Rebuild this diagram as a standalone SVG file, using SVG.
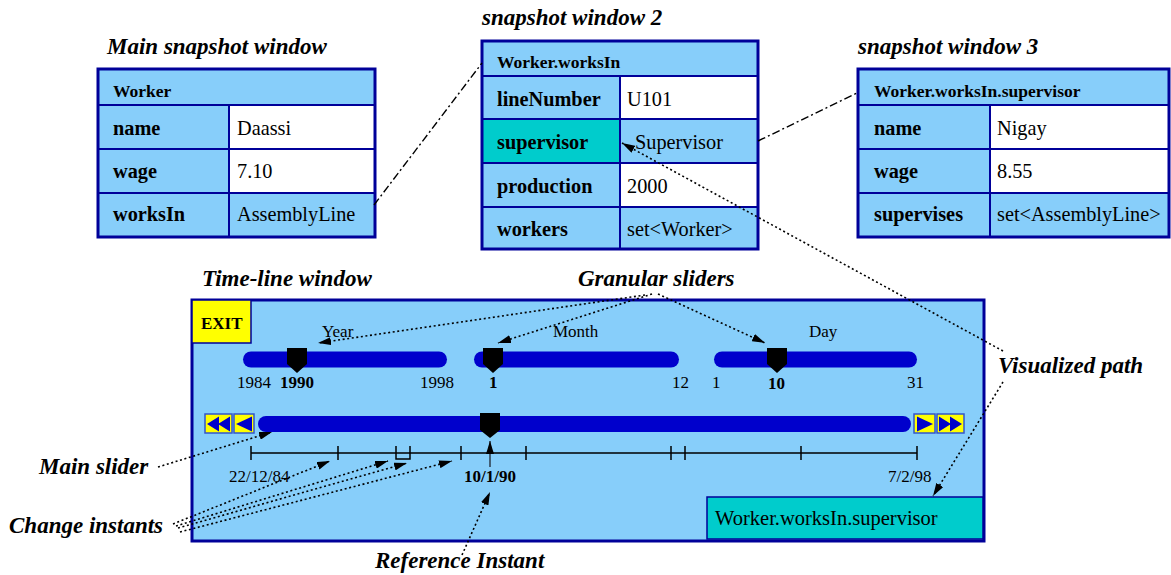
<svg xmlns="http://www.w3.org/2000/svg" width="1171" height="575" viewBox="0 0 1171 575">
<style>
text{font-family:"Liberation Serif","Times New Roman",serif;fill:#000}
.ttl{font-weight:bold;font-style:italic;font-size:23px}
.lbl{font-weight:bold;font-style:italic;font-size:23px}
.hd{font-weight:bold;font-size:17.5px}
.rk{font-weight:bold;font-size:20.3px}
.rv{font-size:20.3px}
.tl{font-size:17px}
.tb{font-size:17px;font-weight:bold}
.cell{fill:#87CEFA}
.white{fill:#fff}
.teal{fill:#00CCCC}
.grid{stroke:#000099;stroke-width:2;fill:none}
.frame{fill:none;stroke:#000099;stroke-width:3}
.bar{stroke:#0000CC;stroke-width:16;stroke-linecap:round;fill:none}
.thumb{fill:#000}
.btn{fill:#FFFF00;stroke:#3355CC;stroke-width:1.5}
.tri{fill:#0000CC}
.axis{stroke:#000;stroke-width:1.5;fill:none}
.dot{stroke:#000;stroke-width:1.6;stroke-dasharray:2 2.6;fill:none}
.dashdot{stroke:#000;stroke-width:1.4;stroke-dasharray:8 3 2 3;fill:none}
</style>
<defs>
<marker id="ah" markerUnits="userSpaceOnUse" markerWidth="14" markerHeight="8" refX="13" refY="4" orient="auto">
<path d="M0,0 L13,4 L0,8 z" fill="#000"/>
</marker>
</defs>

<g id="main-window">
<text class="ttl" x="107" y="54">Main snapshot window</text>
<rect class="cell" x="98" y="69" width="277" height="168"/>
<rect class="white" x="229" y="105" width="146" height="88"/>
<path class="grid" d="M98,105 H375 M98,149 H375 M98,193 H375 M229,105 V237"/>
<rect class="frame" x="98" y="69" width="277" height="168"/>
<text class="hd" x="113" y="97">Worker</text>
<text class="rk" x="113" y="135">name</text>
<text class="rv" x="237" y="135">Daassi</text>
<text class="rk" x="113" y="178">wage</text>
<text class="rv" x="237" y="178">7.10</text>
<text class="rk" x="113" y="221">worksIn</text>
<text class="rv" x="237" y="221">AssemblyLine</text>
</g>

<g id="window-2">
<text class="ttl" x="482" y="25">snapshot window 2</text>
<rect class="cell" x="482" y="41" width="276" height="208"/>
<rect class="white" x="620" y="76" width="138" height="43"/>
<rect class="white" x="620" y="163" width="138" height="44"/>
<rect class="teal" x="482" y="119" width="138" height="44"/>
<path class="grid" d="M482,76 H758 M482,119 H758 M482,163 H758 M482,207 H758 M620,76 V249"/>
<rect class="frame" x="482" y="41" width="276" height="208"/>
<text class="hd" x="497" y="68">Worker.worksIn</text>
<text class="rk" x="497" y="106">lineNumber</text>
<text class="rv" x="627" y="106">U101</text>
<text class="rk" x="497" y="149">supervisor</text>
<text class="rv" x="635" y="149">Supervisor</text>
<text class="rk" x="497" y="193">production</text>
<text class="rv" x="627" y="193">2000</text>
<text class="rk" x="497" y="236">workers</text>
<text class="rv" x="627" y="236">set&lt;Worker&gt;</text>
</g>

<g id="window-3">
<text class="ttl" x="858" y="54">snapshot window 3</text>
<rect class="cell" x="858" y="69" width="311" height="168"/>
<rect class="white" x="990" y="105" width="179" height="88"/>
<path class="grid" d="M858,105 H1169 M858,149 H1169 M858,193 H1169 M990,105 V237"/>
<rect class="frame" x="858" y="69" width="311" height="168"/>
<text class="hd" x="874" y="97">Worker.worksIn.supervisor</text>
<text class="rk" x="874" y="135">name</text>
<text class="rv" x="997" y="135">Nigay</text>
<text class="rk" x="874" y="178">wage</text>
<text class="rv" x="997" y="178">8.55</text>
<text class="rk" x="874" y="221">supervises</text>
<text class="rv" x="997" y="221">set&lt;AssemblyLine&gt;</text>
</g>

<g id="timeline-window">
<text class="lbl" x="202" y="286">Time-line window</text>
<rect x="192" y="300" width="792" height="241" fill="#87CEFA" stroke="#000099" stroke-width="3"/>
<rect x="192" y="300" width="59" height="43" fill="#FFFF00" stroke="#000099" stroke-width="1.5"/>
<text class="tb" x="201" y="329">EXIT</text>

<g id="year-slider">
<line class="bar" x1="251" y1="359.5" x2="439" y2="359.5"/>
<path class="thumb" d="M287,348 H307 V364 L297,373 L287,364 Z"/>
<text class="tl" x="322" y="337">Year</text>
<text class="tl" x="237" y="388">1984</text>
<text class="tb" x="280" y="388">1990</text>
<text class="tl" x="420" y="388">1998</text>
</g>
<g id="month-slider">
<line class="bar" x1="482" y1="359.5" x2="671" y2="359.5"/>
<path class="thumb" d="M483,348 H503 V364 L493,373 L483,364 Z"/>
<text class="tl" x="553" y="337">Month</text>
<text class="tb" x="489" y="388">1</text>
<text class="tl" x="672" y="388">12</text>
</g>
<g id="day-slider">
<line class="bar" x1="722" y1="359.5" x2="909" y2="359.5"/>
<path class="thumb" d="M767,348 H787 V364 L777,373 L767,364 Z"/>
<text class="tl" x="809" y="337">Day</text>
<text class="tl" x="712" y="388">1</text>
<text class="tb" x="768" y="389">10</text>
<text class="tl" x="907" y="388">31</text>
</g>

<g id="main-slider">
<rect class="btn" x="205" y="414" width="27" height="19"/>
<path class="tri" d="M207,424 L219,416.5 V431.5 Z M218,424 L230,416.5 V431.5 Z"/>
<rect class="btn" x="234" y="414" width="20" height="19"/>
<path class="tri" d="M236,424 L252,416.5 V431.5 Z"/>
<line class="bar" x1="266" y1="424" x2="903" y2="424"/>
<rect class="btn" x="914" y="414" width="21" height="19"/>
<path class="tri" d="M933,424 L917,416.5 V431.5 Z"/>
<rect class="btn" x="937" y="414" width="27" height="19"/>
<path class="tri" d="M951,424 L939,416.5 V431.5 Z M962,424 L950,416.5 V431.5 Z"/>
<path class="thumb" d="M480,413 H500 V430 L490,438 L480,430 Z"/>
</g>

<g id="time-axis">
<path class="axis" d="M251,453 H917 M251,446 V460 M338,446 V460 M396,446 V459 H410 V446 M461,446 V460 M526,446 V460 M671,446 V460 M685,446 V460 M801,446 V460 M917,446 V460"/>
<line x1="490" y1="467" x2="490" y2="441" stroke="#334455" stroke-width="1.6" marker-end="url(#ah)"/>
<text class="tl" x="229" y="482">22/12/84</text>
<text class="tb" x="464" y="482">10/1/90</text>
<text class="tl" x="888" y="482">7/2/98</text>
</g>

<g id="visualized-path-box">
<rect x="707" y="497" width="276" height="42" fill="#00CCCC" stroke="#000099" stroke-width="1.5"/>
<text x="715" y="525" style="font-size:20.5px">Worker.worksIn.supervisor</text>
</g>
</g>

<g id="labels">
<text class="lbl" x="578" y="286">Granular sliders</text>
<text class="lbl" x="998" y="373">Visualized path</text>
<text class="lbl" x="39" y="474">Main slider</text>
<text class="lbl" x="9" y="533">Change instants</text>
<text class="lbl" x="375" y="568">Reference Instant</text>
</g>

<g id="connectors">
<line class="dashdot" x1="374" y1="205" x2="482" y2="63"/>
<line class="dashdot" x1="758" y1="141" x2="857" y2="93"/>
<line class="dot" x1="1003" y1="351" x2="622" y2="143" marker-end="url(#ah)"/>
<line class="dot" x1="1003" y1="382" x2="933" y2="496" marker-end="url(#ah)"/>
<line class="dot" x1="645" y1="295" x2="318" y2="343" marker-end="url(#ah)"/>
<line class="dot" x1="652" y1="294" x2="498" y2="343" marker-end="url(#ah)"/>
<line class="dot" x1="658" y1="294" x2="765" y2="343" marker-end="url(#ah)"/>
<line class="dot" x1="158" y1="467" x2="272" y2="432" marker-end="url(#ah)"/>
<line class="dot" x1="173" y1="524" x2="330" y2="461" marker-end="url(#ah)"/>
<line class="dot" x1="176" y1="526" x2="388" y2="461" marker-end="url(#ah)"/>
<line class="dot" x1="178" y1="528" x2="407" y2="463" marker-end="url(#ah)"/>
<line class="dot" x1="180" y1="532" x2="452" y2="461" marker-end="url(#ah)"/>
<line class="dot" x1="462" y1="555" x2="490" y2="492" marker-end="url(#ah)"/>
</g>
</svg>
